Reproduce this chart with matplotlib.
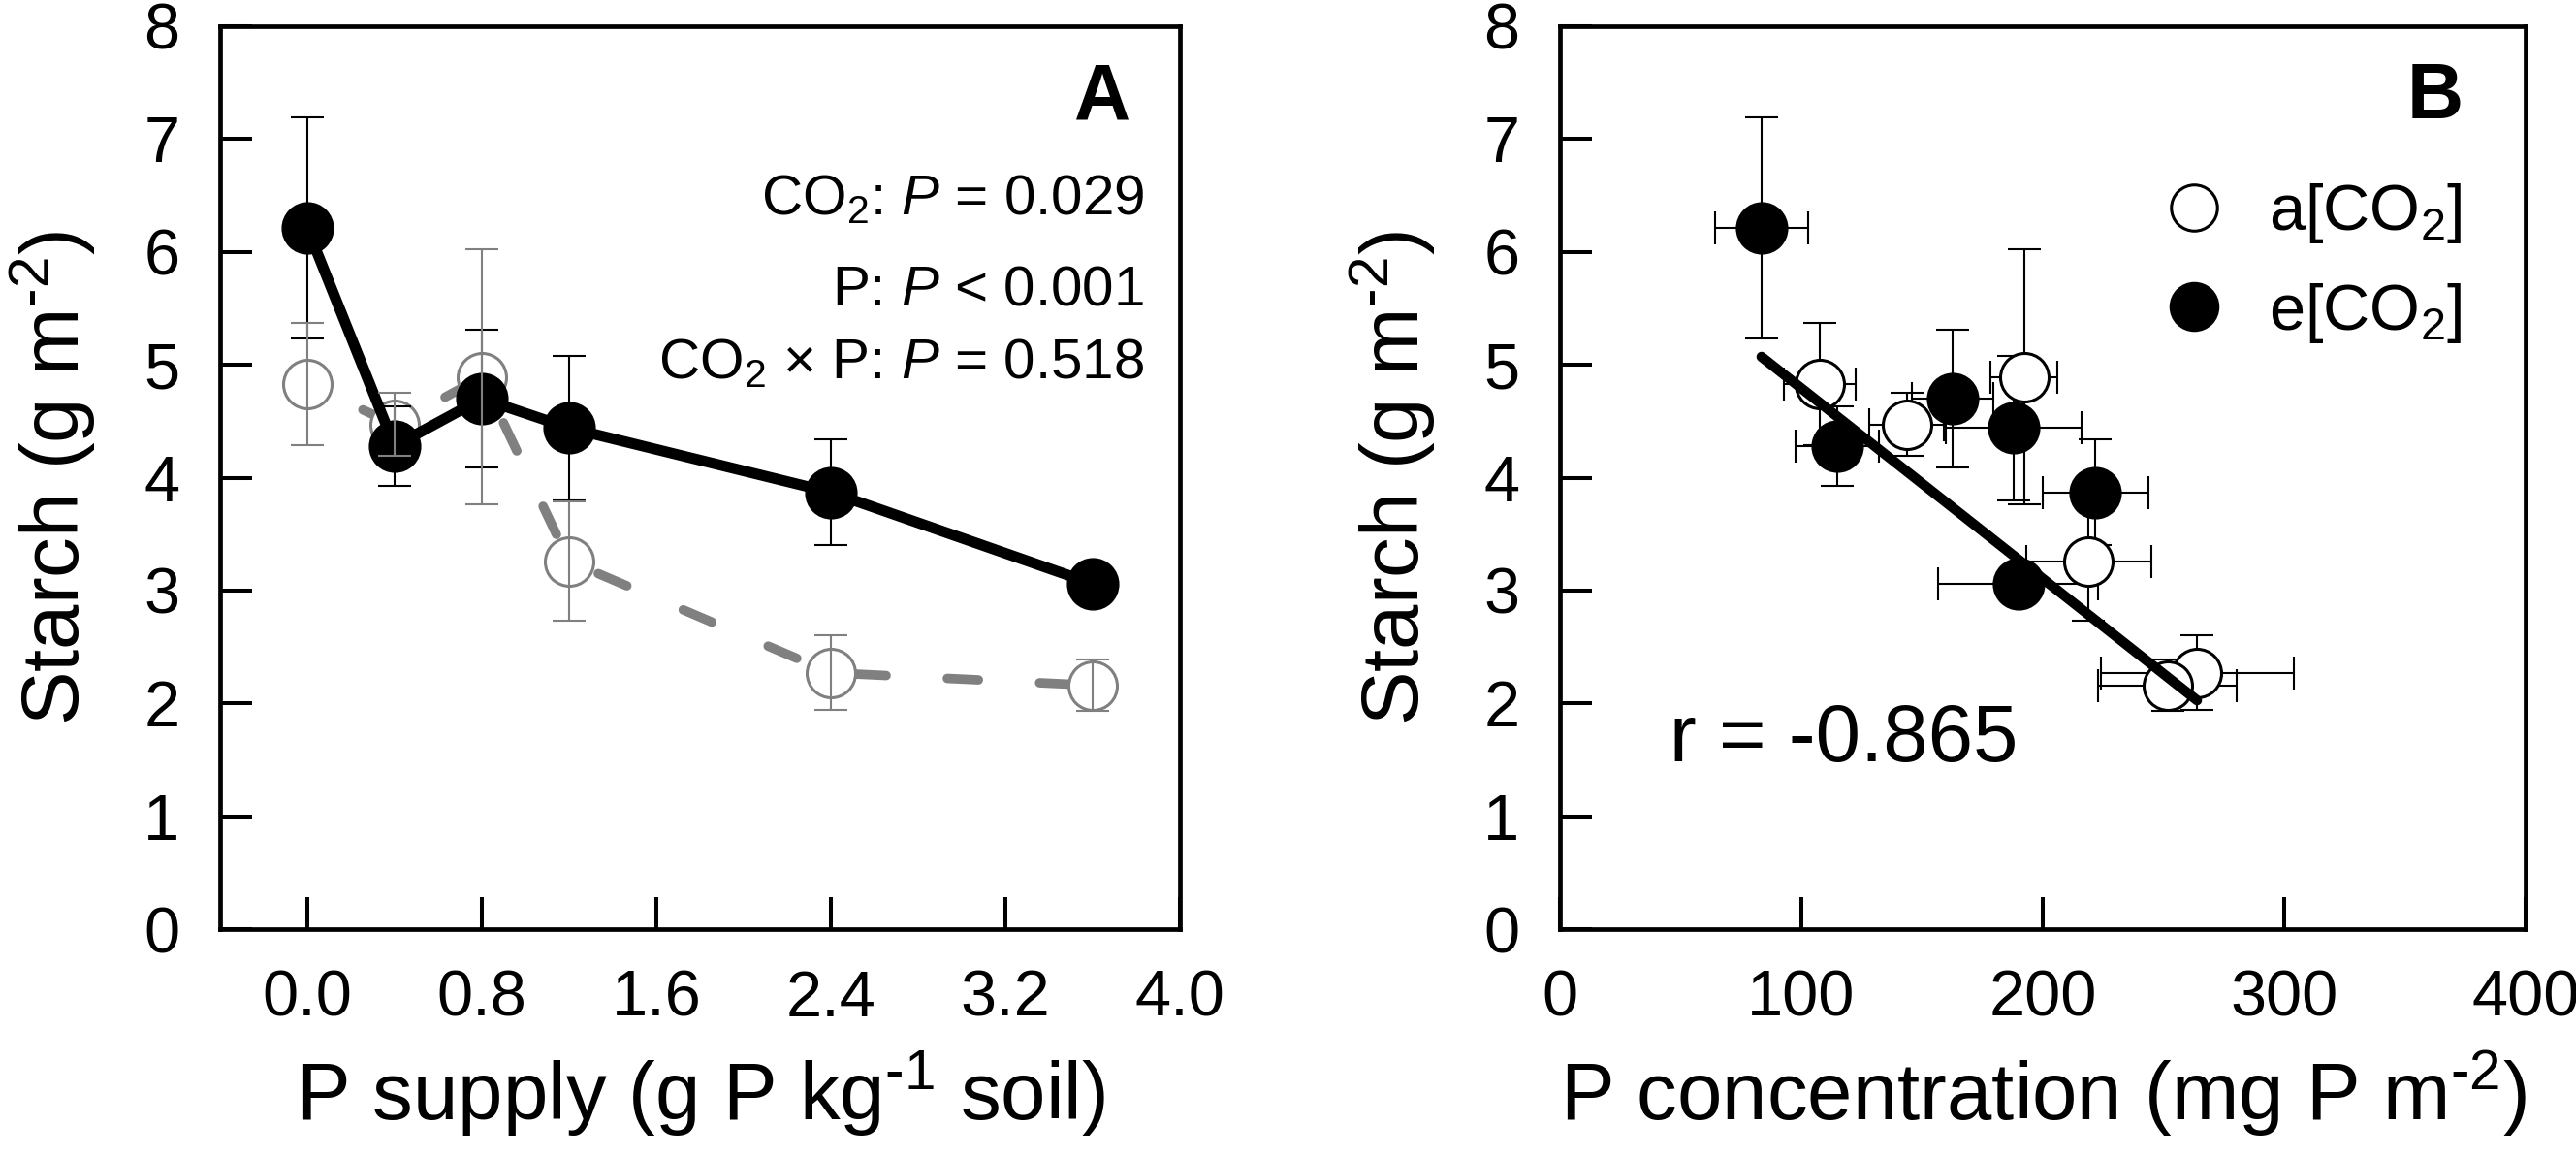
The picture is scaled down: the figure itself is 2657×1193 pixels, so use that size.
import matplotlib
matplotlib.use("Agg")
import matplotlib.pyplot as plt
import numpy as np

plt.rcParams['font.family'] = ['Liberation Sans', 'DejaVu Sans']
plt.rcParams['mathtext.fontset'] = 'custom'
plt.rcParams['mathtext.rm'] = 'Liberation Sans'
plt.rcParams['mathtext.it'] = 'Liberation Sans:italic'
plt.rcParams['mathtext.bf'] = 'Liberation Sans:bold'

# ---------------- data ----------------
p_supply = [0.0, 0.4, 0.8, 1.2, 2.4, 3.6]
starch_a = [4.83, 4.47, 4.89, 3.26, 2.27, 2.16]
starch_a_err = [0.54, 0.28, 1.13, 0.53, 0.33, 0.23]
starch_e = [6.21, 4.28, 4.70, 4.44, 3.87, 3.06]
starch_e_err = [0.98, 0.35, 0.61, 0.64, 0.47, 0.10]

pconc_a = [107.7, 143.6, 192.2, 219.0, 263.9, 251.7]
pconc_a_err = [14.8, 15.6, 13.8, 26.0, 40.0, 28.7]
pconc_e = [83.5, 114.9, 162.6, 188.0, 221.8, 189.8]
pconc_e_err = [19.3, 17.4, 17.0, 28.0, 21.8, 33.0]

fit_slope = -0.01687
fit_intercept = 6.479
r_value = -0.865

stats_labels = ["CO$_2$: $P$ = 0.029", "P: $P$ < 0.001", "CO$_2$ \u00d7 P: $P$ = 0.518"]
stats_y = [6.33, 5.53, 4.88]

xticks_a = [0.0, 0.8, 1.6, 2.4, 3.2, 4.0]
xtick_labels_a = ["0.0", "0.8", "1.6", "2.4", "3.2", "4.0"]
xticks_b = [0, 100, 200, 300, 400]
yticks = [0, 1, 2, 3, 4, 5, 6, 7, 8]

GRAY = '#808080'
TICK_FS = 48
LABEL_FS = 60

fig = plt.figure(figsize=(26.57, 11.93), dpi=100)
axA = fig.add_axes([0.08544, 0.19698, 0.37260, 0.78039])
axB = fig.add_axes([0.60557, 0.19698, 0.37486, 0.78039])

def style(ax):
    for s in ax.spines.values():
        s.set_linewidth(3.4)
    ax.tick_params(direction='in', length=24, width=2.9, labelsize=TICK_FS,
                   pad=30, top=False, right=False)
    ax.set_ylim(0, 8)
    ax.set_yticks(yticks)
    ax.set_ylabel("Starch (g m$^{\u20102}$)", fontsize=LABEL_FS, labelpad=34)

# ---------------- panel A ----------------
ms = 38
axA.plot(p_supply, starch_a, color=GRAY, lw=7, linestyle=(3.3, (3.3, 6.5)),
         dash_capstyle='round', zorder=1)
axA.plot(p_supply, starch_a, 'o', ms=ms - 2, mfc='white', mec=GRAY, mew=2.2, zorder=2)
axA.plot(p_supply, starch_e, color='black', lw=8, zorder=3)
axA.plot(p_supply, starch_e, 'o', ms=ms, mfc='black', mec='black', zorder=4)
axA.errorbar(p_supply, starch_e, yerr=starch_e_err, fmt='none', ecolor='black',
             elinewidth=1.5, capsize=12, capthick=1.5, zorder=5)
axA.errorbar(p_supply, starch_a, yerr=starch_a_err, fmt='none', ecolor=GRAY,
             elinewidth=1.5, capsize=12, capthick=1.5, zorder=6)
axA.set_xlim(-0.4, 4.0)
axA.set_xticks(xticks_a)
axA.set_xticklabels(xtick_labels_a)
style(axA)
axA.set_xlabel("P supply (g P kg$^{\u20101}$ soil)", fontsize=LABEL_FS, labelpad=14)
axA.text(0.949, 7.18, "A", transform=axA.get_yaxis_transform(), ha='right',
         va='baseline', fontsize=58, fontweight='bold')
for lab, yy in zip(stats_labels, stats_y):
    axA.text(0.963, yy, lab, transform=axA.get_yaxis_transform(), ha='right',
             va='baseline', fontsize=42)

# ---------------- panel B ----------------
axB.errorbar(pconc_a, starch_a, xerr=pconc_a_err, yerr=starch_a_err, fmt='none',
             ecolor='black', elinewidth=1.5, capsize=12, capthick=1.5, zorder=1)
axB.errorbar(pconc_e, starch_e, xerr=pconc_e_err, yerr=starch_e_err, fmt='none',
             ecolor='black', elinewidth=1.5, capsize=12, capthick=1.5, zorder=1)
axB.plot(pconc_a, starch_a, 'o', ms=ms - 2, mfc='white', mec='black', mew=2.2,
         zorder=2, label="a[CO$_2$]")
axB.plot(pconc_e, starch_e, 'o', ms=ms, mfc='black', mec='black', zorder=3,
         label="e[CO$_2$]")
all_x = np.array(pconc_a + pconc_e)
fx = np.array([all_x.min(), all_x.max()])
axB.plot(fx, fit_intercept + fit_slope * fx, color='black', lw=7.5,
         solid_capstyle='round', zorder=4)
axB.set_xlim(0, 400)
axB.set_xticks(xticks_b)
style(axB)
axB.set_xlabel("P concentration (mg P m$^{\u20102}$)", fontsize=LABEL_FS, labelpad=14)
axB.text(0.935, 7.18, "B", transform=axB.get_yaxis_transform(), ha='right',
         va='baseline', fontsize=58, fontweight='bold')
axB.text(45.4, 1.49, f"r = {r_value:.3f}", fontsize=60, ha='left', va='baseline')
axB.legend(loc='upper left', bbox_to_anchor=(0.623, 0.828), frameon=False,
           fontsize=TICK_FS, handlelength=1.0, handletextpad=0.66,
           labelspacing=0.55, borderpad=0, borderaxespad=0, markerscale=0.95)

fig.savefig("out.png", dpi=100)
